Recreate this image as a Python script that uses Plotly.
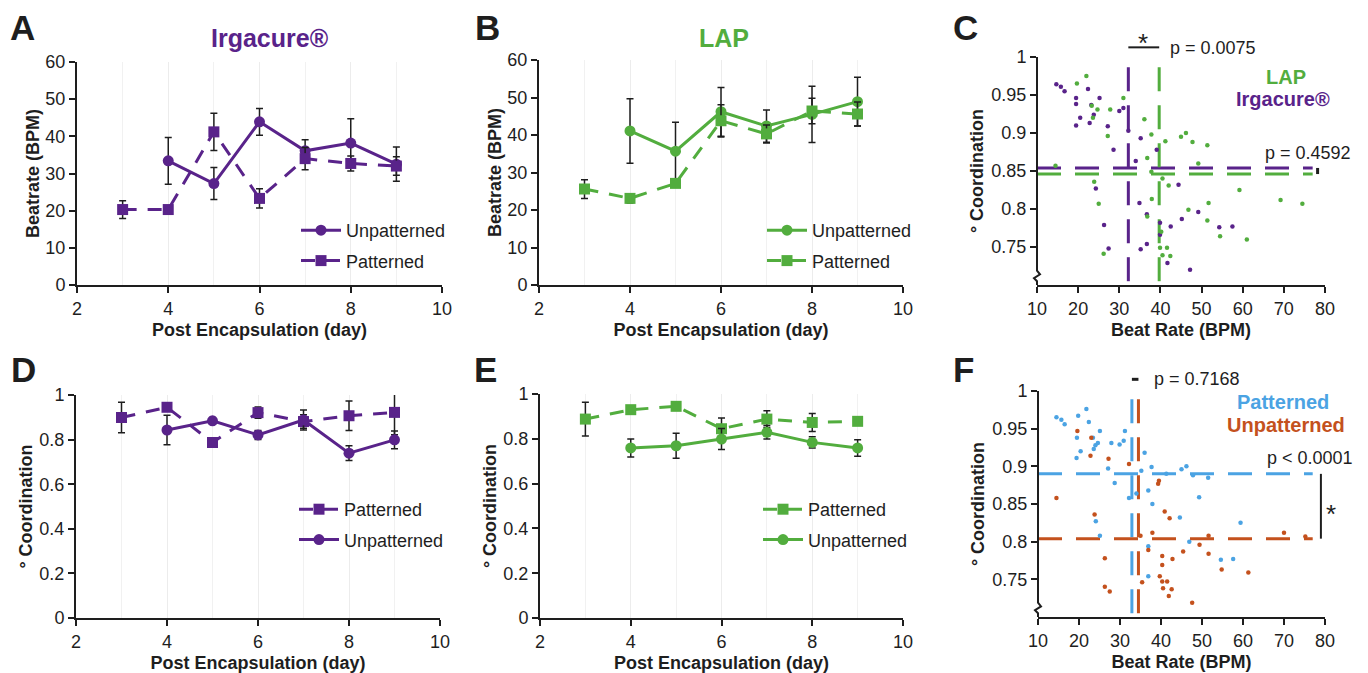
import plotly.graph_objects as go

FONT = "Liberation Sans, Arial, Helvetica, sans-serif"
PURPLE = "#59238a"
GREEN = "#52ad3e"
BLUE = "#4ba3e3"
ORANGE = "#c4511d"
INK = "#1e1e1e"

# page is drawn with an 8px body margin, so the figure is sized to fit the window
OFF = 8
W, H = 1368 - OFF, 673 - OFF

# ---------------- data ----------------
days_unpat = [4, 5, 6, 7, 8, 9]
days_pat = [3, 4, 5, 6, 7, 8, 9]

# A: Irgacure beat rate
irg_beat_unpat = [33.4, 27.3, 43.9, 36.1, 38.2, 32.5]
irg_beat_unpat_err = [6.3, 4.3, 3.6, 3.0, 6.5, 4.6]
irg_beat_pat = [20.3, 20.3, 41.2, 23.3, 34.0, 32.7, 32.0]
irg_beat_pat_err = [2.4, 1.0, 5.0, 2.6, 3.0, 2.0, 2.5]

# B: LAP beat rate
lap_beat_unpat = [41.1, 35.7, 46.2, 42.4, 45.5, 48.9]
lap_beat_unpat_err = [8.6, 7.7, 6.5, 4.3, 7.5, 6.5]
lap_beat_pat = [25.6, 23.1, 27.1, 43.8, 40.3, 46.4, 45.6]
lap_beat_pat_err = [2.5, 1.2, 0.8, 4.3, 2.4, 3.4, 3.2]

# D: Irgacure coordination
irg_coord_pat = [0.899, 0.945, 0.787, 0.921, 0.881, 0.907, 0.922]
irg_coord_pat_err = [0.068, 0.012, 0.012, 0.025, 0.03, 0.066, 0.1]
irg_coord_unpat = [0.843, 0.884, 0.821, 0.888, 0.739, 0.799]
irg_coord_unpat_err = [0.066, 0.015, 0.02, 0.045, 0.033, 0.04]

# E: LAP coordination
lap_coord_pat = [0.888, 0.930, 0.945, 0.845, 0.888, 0.873, 0.878]
lap_coord_pat_err = [0.075, 0.015, 0.015, 0.048, 0.037, 0.04, 0.012]
lap_coord_unpat = [0.759, 0.769, 0.799, 0.829, 0.784, 0.759]
lap_coord_unpat_err = [0.04, 0.056, 0.047, 0.03, 0.025, 0.037]

# C: beat rate vs coordination by photoinitiator
irg_bpm = [14.7, 15.8, 16.7, 19.5, 19.5, 19.5, 20.5, 22.4, 22.8, 23.2, 23.8, 25.2, 24.3,
           26.3, 27.4, 27.2, 28.6, 30.0, 31.0, 32.2, 34.0, 34.9, 35.2, 35.2, 36.7, 36.7,
           39.1, 39.9, 39.9, 42.5, 41.7, 44.4, 45.2, 49.2, 54.3, 57.5, 47.2]
irg_coord = [0.964, 0.961, 0.955, 0.946, 0.938, 0.910, 0.920, 0.958, 0.913, 0.937, 0.924,
             0.946, 0.827, 0.779, 0.748, 0.909, 0.878, 0.929, 0.933, 0.903, 0.863, 0.808,
             0.747, 0.893, 0.754, 0.793, 0.878, 0.782, 0.766, 0.777, 0.729, 0.832, 0.787,
             0.796, 0.776, 0.777, 0.720]
lap_bpm = [14.5, 19.7, 22.0, 23.3, 23.6, 24.7, 23.9, 25.0, 26.2, 27.8, 27.2, 31.0, 36.1,
           37.8, 36.8, 37.8, 37.9, 36.8, 41.2, 40.5, 42.0, 40.2, 39.9, 40.5, 41.6, 42.4,
           45.0, 46.2, 47.8, 46.8, 51.4, 49.2, 51.7, 51.4, 54.5, 59.2, 61.0, 69.2, 74.5]
lap_coord = [0.857, 0.965, 0.975, 0.936, 0.920, 0.931, 0.836, 0.807, 0.741, 0.931, 0.896,
             0.946, 0.918, 0.898, 0.867, 0.849, 0.813, 0.790, 0.889, 0.840, 0.831, 0.770,
             0.749, 0.739, 0.749, 0.738, 0.895, 0.900, 0.888, 0.799, 0.884, 0.860, 0.808,
             0.785, 0.764, 0.825, 0.760, 0.812, 0.807]
irg_mean_bpm, lap_mean_bpm = 32.2, 39.7
irg_mean_coord, lap_mean_coord = 0.854, 0.846

# F: beat rate vs coordination by patterning
pat_bpm = [14.5, 15.7, 16.5, 19.8, 19.5, 19.4, 20.4, 21.8, 22.4, 23.4, 24.0, 23.6, 25.1,
           24.6, 24.1, 25.1, 27.1, 27.9, 28.7, 29.9, 31.2, 30.9, 32.2, 34.0, 35.2, 36.0,
           36.9, 36.9, 37.7, 37.9, 36.9, 41.3, 45.0, 46.2, 47.8, 46.9, 49.3, 51.5, 44.6,
           54.6, 57.6, 59.4]
pat_coord = [0.965, 0.962, 0.956, 0.967, 0.938, 0.911, 0.920, 0.976, 0.959, 0.938, 0.928,
             0.923, 0.947, 0.931, 0.827, 0.808, 0.897, 0.931, 0.878, 0.929, 0.947, 0.934,
             0.858, 0.864, 0.894, 0.918, 0.868, 0.794, 0.899, 0.850, 0.754, 0.890, 0.896,
             0.900, 0.888, 0.800, 0.859, 0.885, 0.832, 0.776, 0.777, 0.825]
unpat_bpm = [14.5, 19.6, 23.0, 22.8, 23.8, 26.3, 27.2, 26.3, 27.5, 32.2, 35.0, 35.4, 36.9,
             37.9, 39.3, 39.5, 40.9, 42.1, 40.3, 40.3, 39.7, 40.3, 41.5, 40.5, 42.6, 41.9,
             42.8, 45.4, 47.6, 49.4, 51.6, 51.6, 54.8, 61.3, 70.0, 75.2]
unpat_coord = [0.858, 0.947, 0.938, 0.914, 0.836, 0.778, 0.910, 0.740, 0.734, 0.903, 0.808,
               0.746, 0.789, 0.812, 0.877, 0.881, 0.840, 0.831, 0.781, 0.769, 0.754, 0.747,
               0.747, 0.738, 0.737, 0.728, 0.777, 0.787, 0.719, 0.796, 0.808, 0.784, 0.763,
               0.759, 0.812, 0.807]
pat_mean_bpm, unpat_mean_bpm = 32.9, 34.5
pat_mean_coord, unpat_mean_coord = 0.890, 0.804

# ---------------- layout geometry (window pixels) ----------------
def fx(p):
    return (p - OFF) / W

def fy(p):
    return 1 - (p - OFF) / H

DOM = {
    "A": ((77, 442), (62, 285)),
    "B": ((539, 903), (60, 285)),
    "C": ((1037, 1325), (57, 285)),
    "D": ((76, 440), (395, 618)),
    "E": ((540, 903), (394, 618)),
    "F": ((1038, 1325), (391, 617)),
}

def xdom(k):
    a, b = DOM[k][0]
    return [fx(a), fx(b)]

def ydom(k):
    a, b = DOM[k][1]
    return [fy(b), fy(a)]

SCATTER_X_RANGE = [10, 80]
SCATTER_Y_RANGE = [0.70, 1.0]
MEAN_X_SPAN = [10, 77]
MEAN_Y_SPAN = [0.705, 1.0]

def paper_x(k, v):
    d = xdom(k)
    r = SCATTER_X_RANGE
    return d[0] + (v - r[0]) / (r[1] - r[0]) * (d[1] - d[0])

def paper_y(k, v):
    d = ydom(k)
    r = SCATTER_Y_RANGE
    return d[0] + (v - r[0]) / (r[1] - r[0]) * (d[1] - d[0])

fig = go.Figure()

def series(x, y, err, color, dash, symbol, name, xa, ya, legend):
    fig.add_trace(go.Scatter(
        x=x, y=y, mode="lines+markers", name=name, xaxis=xa, yaxis=ya,
        legend=legend, legendgroup=name + legend,
        line=dict(color=color, width=3, dash=dash),
        marker=dict(symbol=symbol, size=11, color=color),
        error_y=dict(type="data", array=err, color=INK, thickness=1.5, width=3.5),
        cliponaxis=False,
    ))

DASH = "14px,11px"
# A
series(days_unpat, irg_beat_unpat, irg_beat_unpat_err, PURPLE, "solid", "circle", "Unpatterned", "x", "y", "legend")
series(days_pat, irg_beat_pat, irg_beat_pat_err, PURPLE, DASH, "square", "Patterned", "x", "y", "legend")
# B
series(days_unpat, lap_beat_unpat, lap_beat_unpat_err, GREEN, "solid", "circle", "Unpatterned", "x2", "y2", "legend2")
series(days_pat, lap_beat_pat, lap_beat_pat_err, GREEN, DASH, "square", "Patterned", "x2", "y2", "legend2")
# D
series(days_pat, irg_coord_pat, irg_coord_pat_err, PURPLE, DASH, "square", "Patterned", "x4", "y4", "legend3")
series(days_unpat, irg_coord_unpat, irg_coord_unpat_err, PURPLE, "solid", "circle", "Unpatterned", "x4", "y4", "legend3")
# E
series(days_pat, lap_coord_pat, lap_coord_pat_err, GREEN, DASH, "square", "Patterned", "x5", "y5", "legend4")
series(days_unpat, lap_coord_unpat, lap_coord_unpat_err, GREEN, "solid", "circle", "Unpatterned", "x5", "y5", "legend4")

MDASH = "24px,14px"

def mean_lines(mx, my, color, xa, ya):
    fig.add_trace(go.Scatter(x=MEAN_X_SPAN, y=[my, my], mode="lines", xaxis=xa, yaxis=ya,
                             line=dict(color=color, width=3, dash=MDASH), showlegend=False,
                             hoverinfo="skip", cliponaxis=False))
    fig.add_trace(go.Scatter(x=[mx, mx], y=MEAN_Y_SPAN, mode="lines", xaxis=xa, yaxis=ya,
                             line=dict(color=color, width=3, dash=MDASH), showlegend=False,
                             hoverinfo="skip", cliponaxis=False))

def dots(x, y, color, xa, ya):
    fig.add_trace(go.Scatter(x=x, y=y, mode="markers", xaxis=xa, yaxis=ya,
                             marker=dict(size=4.5, color=color), showlegend=False, cliponaxis=False))

# C
mean_lines(irg_mean_bpm, irg_mean_coord, PURPLE, "x3", "y3")
mean_lines(lap_mean_bpm, lap_mean_coord, GREEN, "x3", "y3")
dots(irg_bpm, irg_coord, PURPLE, "x3", "y3")
dots(lap_bpm, lap_coord, GREEN, "x3", "y3")
# F
mean_lines(pat_mean_bpm, pat_mean_coord, BLUE, "x6", "y6")
mean_lines(unpat_mean_bpm, unpat_mean_coord, ORANGE, "x6", "y6")
dots(pat_bpm, pat_coord, BLUE, "x6", "y6")
dots(unpat_bpm, unpat_coord, ORANGE, "x6", "y6")

# ---------------- axes ----------------
base = dict(showline=True, linecolor=INK, linewidth=2, ticks="outside", ticklen=6,
            tickwidth=2, tickcolor=INK, tickfont=dict(size=18, color=INK, family=FONT),
            zeroline=False, showgrid=False, automargin=False)

def title(t, st):
    return dict(text="<b>" + t + "</b>", font=dict(size=18, color=INK, family=FONT), standoff=st)

def time_x(k, anchor):
    d = dict(base)
    d.update(domain=xdom(k), anchor=anchor, range=[2, 10], tickvals=[2, 4, 6, 8, 10],
             showgrid=True, gridcolor="#ececec", gridwidth=1,
             minor=dict(tickvals=[3, 5, 7, 9], showgrid=True, gridcolor="#f1f1f1", ticks=""),
             title=title("Post Encapsulation (day)", 6))
    return d

def beat_y(k, anchor):
    d = dict(base)
    d.update(domain=ydom(k), anchor=anchor, range=[0, 60], tickvals=[0, 10, 20, 30, 40, 50, 60],
             title=title("Beatrate (BPM)", 1))
    return d

def coord_y(k, anchor):
    d = dict(base)
    d.update(domain=ydom(k), anchor=anchor, range=[0, 1],
             tickvals=[0, 0.2, 0.4, 0.6, 0.8, 1], ticktext=["0", "0.2", "0.4", "0.6", "0.8", "1"],
             title=title("° Coordination", 2))
    return d

def scat_x(k, anchor):
    d = dict(base)
    d.update(domain=xdom(k), anchor=anchor, range=SCATTER_X_RANGE,
             tickvals=[10, 20, 30, 40, 50, 60, 70, 80], title=title("Beat Rate (BPM)", 6))
    return d

def scat_y(k, anchor):
    d = dict(base)
    d.update(domain=ydom(k), anchor=anchor, range=SCATTER_Y_RANGE, showline=False,
             tickvals=[0.75, 0.8, 0.85, 0.9, 0.95, 1],
             ticktext=["0.75", "0.8", "0.85", "0.9", "0.95", "1"],
             title=title("° Coordination", 3))
    return d

legend_common = dict(font=dict(size=18, color=INK, family=FONT), bgcolor="rgba(0,0,0,0)",
                     itemwidth=40, traceorder="grouped", tracegroupgap=4,
                     xanchor="left", yanchor="top")

fig.update_layout(
    width=W, height=H, margin=dict(l=0, r=0, t=0, b=0, autoexpand=False),
    paper_bgcolor="white", plot_bgcolor="white",
    font=dict(family=FONT, color=INK),
    xaxis=time_x("A", "y"), yaxis=beat_y("A", "x"),
    xaxis2=time_x("B", "y2"), yaxis2=beat_y("B", "x2"),
    xaxis3=scat_x("C", "y3"), yaxis3=scat_y("C", "x3"),
    xaxis4=time_x("D", "y4"), yaxis4=coord_y("D", "x4"),
    xaxis5=time_x("E", "y5"), yaxis5=coord_y("E", "x5"),
    xaxis6=scat_x("F", "y6"), yaxis6=scat_y("F", "x6"),
    legend=dict(legend_common, x=fx(296), y=fy(212)),
    legend2=dict(legend_common, x=fx(762), y=fy(212)),
    legend3=dict(legend_common, x=fx(294), y=fy(491)),
    legend4=dict(legend_common, x=fx(758), y=fy(491)),
    showlegend=True,
)

shapes = []
# manual broken y-axis lines for C and F
for k in ("C", "F"):
    x0 = xdom(k)[0]
    dx = 3.0 / W
    pts = [(x0, paper_y(k, SCATTER_Y_RANGE[1])), (x0, paper_y(k, 0.719)),
           (x0 + dx, paper_y(k, 0.714)), (x0 - dx, paper_y(k, 0.709)),
           (x0, paper_y(k, 0.705)), (x0, paper_y(k, SCATTER_Y_RANGE[0]))]
    path = "M " + " L ".join(f"{a},{b}" for a, b in pts)
    shapes.append(dict(type="path", xref="paper", yref="paper", path=path,
                       line=dict(color=INK, width=2), layer="above"))

# significance bars between means (paper coords from the axis mapping, unclipped)
def bar(k, xv0, yv0, xv1, yv1, width):
    shapes.append(dict(type="line", xref="paper", yref="paper",
                       x0=paper_x(k, xv0), x1=paper_x(k, xv1),
                       y0=paper_y(k, yv0), y1=paper_y(k, yv1),
                       line=dict(color=INK, width=width), layer="above"))

bar("C", irg_mean_bpm, 1.0127, lap_mean_bpm, 1.0127, 2)
bar("C", 78.2, lap_mean_coord, 78.2, irg_mean_coord, 3)
bar("F", pat_mean_bpm, 1.0155, unpat_mean_bpm, 1.0155, 3)
bar("F", 79.0, unpat_mean_coord, 79.0, pat_mean_coord, 2)
fig.update_layout(shapes=shapes)

# ---------------- annotations ----------------
ann = []
def text(xp, yp, t, size, color=INK, bold=False, xanchor="center"):
    ann.append(dict(x=fx(xp), y=fy(yp), xref="paper", yref="paper", showarrow=False,
                    text=("<b>" + t + "</b>") if bold else t, xanchor=xanchor, yanchor="middle",
                    font=dict(size=size, color=color, family=FONT)))

for letter, (xp, yp) in {"A": (22, 27), "B": (487, 27), "C": (965, 27),
                         "D": (23, 369), "E": (486, 369), "F": (964, 369)}.items():
    text(xp, yp, letter, 35, bold=True)

text(270, 38, "Irgacure®", 25, PURPLE, True)
text(724, 38, "LAP", 25, GREEN, True)

# C
text(1143, 43, "*", 26)
text(1168, 48, "p = 0.0075", 18, xanchor="left")
text(1286, 77, "LAP", 20, GREEN, True)
text(1283, 99, "Irgacure®", 20, PURPLE, True)
text(1308, 153, "p = 0.4592", 18)
# F
text(1152, 379, "p = 0.7168", 18, xanchor="left")
text(1283, 402, "Patterned", 20, BLUE, True)
text(1286, 425, "Unpatterned", 20, ORANGE, True)
text(1310, 458, "p < 0.0001", 18)
text(1331, 514, "*", 26)

fig.update_layout(annotations=ann)

fig.write_html("out.html")
